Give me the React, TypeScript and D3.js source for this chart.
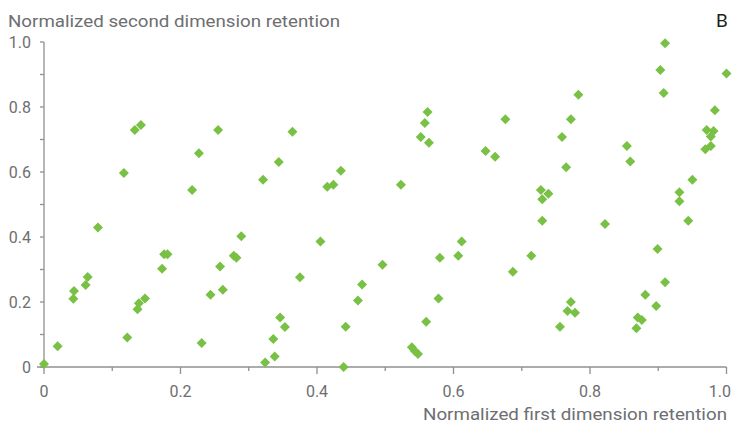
import React from "react";
import * as d3 from "d3";

const xValues = [
  0.000, 0.020, 0.043, 0.044, 0.061, 0.064, 0.079, 0.117, 0.122, 0.133,
  0.142, 0.137, 0.139, 0.148, 0.173, 0.176, 0.181, 0.217, 0.227, 0.231,
  0.244, 0.255, 0.258, 0.262, 0.278, 0.282, 0.289, 0.321, 0.324, 0.338,
  0.336, 0.344, 0.346, 0.353, 0.364, 0.375, 0.405, 0.415, 0.424, 0.435,
  0.439, 0.442, 0.460, 0.466, 0.496, 0.523, 0.539, 0.543, 0.548, 0.552,
  0.558, 0.562, 0.564, 0.560, 0.578, 0.580, 0.607, 0.612, 0.647, 0.661,
  0.676, 0.687, 0.714, 0.728, 0.739, 0.730, 0.730, 0.756, 0.759, 0.765,
  0.767, 0.772, 0.778, 0.772, 0.783, 0.822, 0.854, 0.859, 0.868, 0.870,
  0.876, 0.881, 0.897, 0.899, 0.903, 0.910, 0.908, 0.910, 0.931, 0.931,
  0.944, 0.950, 0.969, 0.971, 0.977, 0.977, 0.981, 0.983, 1.000,
];
const yValues = [
  0.009, 0.064, 0.210, 0.234, 0.252, 0.277, 0.429, 0.597, 0.091, 0.729,
  0.745, 0.178, 0.196, 0.211, 0.302, 0.347, 0.347, 0.545, 0.658, 0.074,
  0.222, 0.729, 0.309, 0.238, 0.342, 0.336, 0.402, 0.576, 0.014, 0.032,
  0.086, 0.631, 0.152, 0.123, 0.724, 0.276, 0.386, 0.555, 0.561, 0.604,
  0.000, 0.124, 0.205, 0.254, 0.315, 0.561, 0.061, 0.050, 0.040, 0.708,
  0.751, 0.785, 0.690, 0.139, 0.211, 0.336, 0.342, 0.386, 0.665, 0.647,
  0.762, 0.293, 0.342, 0.545, 0.533, 0.516, 0.450, 0.124, 0.708, 0.615,
  0.172, 0.200, 0.167, 0.762, 0.838, 0.440, 0.680, 0.632, 0.119, 0.152,
  0.145, 0.222, 0.188, 0.363, 0.914, 0.996, 0.843, 0.261, 0.538, 0.510,
  0.450, 0.576, 0.670, 0.729, 0.709, 0.680, 0.726, 0.790, 0.903,
];

const majorTicks = [0, 0.2, 0.4, 0.6, 0.8, 1.0];
const minorTicks = [0.1, 0.3, 0.5, 0.7, 0.9];
const xTickLabels = ["0", "0.2", "0.4", "0.6", "0.8", "1.0"];
const yTickLabels = ["0", "0.2", "0.4", "0.6", "0.8", "1.0"];

const yTitle = "Normalized second dimension retention";
const xTitle = "Normalized first dimension retention";
const panelLabel = "B";

const W = 733;
const H = 426;
const TEXT = "#6d6e71";
const AXIS = "#8f9092";
const GREEN = "#78c144";
const FONT = "Roboto, 'Liberation Sans', sans-serif";

export default function App() {
  const x = d3.scaleLinear().domain([0, 1]).range([44, 726.5]);
  const y = d3.scaleLinear().domain([0, 1]).range([367, 42]);
  const points = xValues.map((v, i) => ({ x: v, y: yValues[i] }));
  const r = 5;
  const diamond = d3.line()([[0, -r], [r, 0], [0, r], [-r, 0]]) + "Z";

  return (
    <svg
      width={W}
      height={H}
      style={{ position: "absolute", left: 0, top: 0, background: "#fff" }}
      fontFamily={FONT}
    >
      <rect width={W} height={H} fill="#fff" />
      {/* axes lines */}
      <line x1={x(0)} x2={x(0)} y1={y(1)} y2={y(0)} stroke={AXIS} strokeWidth={1.3} />
      <line x1={x(0) - 7} x2={x(1)} y1={y(0)} y2={y(0)} stroke={AXIS} strokeWidth={1.3} />
      {/* y ticks */}
      {majorTicks.concat(minorTicks).map((t) => (
        <line key={"yt" + t} x1={x(0) - 4} x2={x(0)} y1={y(t)} y2={y(t)} stroke={AXIS} strokeWidth={1.3} />
      ))}
      {/* x ticks */}
      {majorTicks.map((t) => (
        <line key={"xM" + t} x1={x(t)} x2={x(t)} y1={y(0)} y2={y(0) + 7} stroke={AXIS} strokeWidth={1.3} />
      ))}
      {minorTicks.map((t) => (
        <line key={"xm" + t} x1={x(t)} x2={x(t)} y1={y(0)} y2={y(0) + 4} stroke={AXIS} strokeWidth={1.3} />
      ))}
      {/* tick labels */}
      {majorTicks.map((t, i) => {
        const last = i === majorTicks.length - 1;
        return (
          <text
            key={"xl" + t}
            x={last ? 731 : x(t)}
            y={397}
            textAnchor={last ? "end" : "middle"}
            fontSize={16}
            fill={TEXT}
          >
            {xTickLabels[i]}
          </text>
        );
      })}
      {majorTicks.map((t, i) => (
        <text key={"yl" + t} x={31} y={y(t)} dy="0.35em" textAnchor="end" fontSize={16} fill={TEXT}>
          {yTickLabels[i]}
        </text>
      ))}
      {/* titles */}
      <text x={8} y={26.5} fontSize={17} fill={TEXT} textLength={332} lengthAdjust="spacingAndGlyphs">
        {yTitle}
      </text>
      <text x={423} y={420} fontSize={17} fill={TEXT} textLength={304} lengthAdjust="spacingAndGlyphs">
        {xTitle}
      </text>
      <text x={716} y={27} fontSize={19} fill="#231f20">
        {panelLabel}
      </text>
      {/* points */}
      {points.map((p, i) => (
        <path key={i} d={diamond} transform={`translate(${x(p.x)},${y(p.y)})`} fill={GREEN} />
      ))}
    </svg>
  );
}
